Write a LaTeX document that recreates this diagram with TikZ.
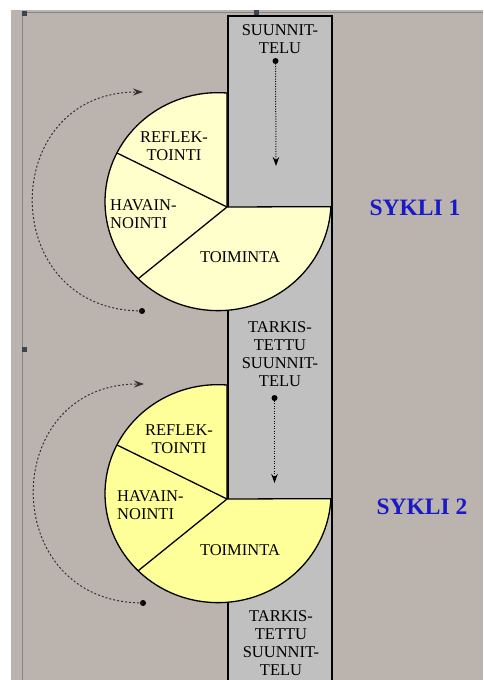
\documentclass[tikz,border=0pt]{standalone}
\usepackage{fontspec}
\setmainfont{Liberation Serif}
\usetikzlibrary{arrows.meta,calc}
\definecolor{bgc}{HTML}{BAB3AE}
\definecolor{colc}{HTML}{C0C0C0}
\definecolor{pieA}{HTML}{FFFFCC}
\definecolor{pieB}{HTML}{FFFF99}
\definecolor{syk}{RGB}{25,25,200}
\definecolor{frame}{HTML}{858585}
\definecolor{handle}{HTML}{3C4450}
\tikzset{
  lbl/.style={inner sep=0pt, align=center, font=\fontsize{16.5}{18}\selectfont, text=black},
  lblL/.style={inner sep=0pt, align=left, font=\fontsize{16.5}{18}\selectfont, text=black, anchor=west},
  sykli/.style={inner sep=0pt, font=\fontsize{23.5}{26}\selectfont\bfseries, text=syk},
  dotnode/.style={circle, fill=black, inner sep=0pt, minimum size=6pt},
  piebord/.style={draw=black, line width=1.3pt},
  vdots/.style={draw=black, line width=1pt, dash pattern=on 1pt off 1.5pt, -{Stealth[length=9pt,width=6.5pt]}},
  curvy/.style={draw=black!80, line width=1pt, dash pattern=on 2pt off 2pt, -{Stealth[length=10pt,width=7pt]}},
}
\begin{document}
\begin{tikzpicture}[x=1pt,y=1pt]
\useasboundingbox (0,0) rectangle (483,-680);
\fill[white] (0,0) rectangle (483,-680);
\fill[bgc] (11,-10) rectangle (483,-680);
% frame lines and handles
\draw[frame, line width=1.5pt] (22.5,-13) -- (22.5,-680);
\draw[frame, line width=1pt] (22.5,-12.5) -- (483,-12.5);
\fill[handle] (22,-11) rectangle (27,-16);
\fill[handle] (254,-10) rectangle (259,-15);
\fill[handle] (22,-347) rectangle (27,-352);
% column
\draw[fill=colc, draw=black, line width=1.3pt] (228,-16) rectangle (332,-690);
% upper pie
\begin{scope}
  \coordinate (hub1) at (227,-207);
  \coordinate (c1) at (218,-202);
  \filldraw[fill=pieA, piebord] (hub1) -- (227,-93) arc[start angle=85.43, end angle=357.37, x radius=113, y radius=109] -- cycle;
  \draw[piebord] (hub1) -- ($(c1)+(153.3:113 and 109)$);
  \draw[piebord] (hub1) -- ($(c1)+(224.9:113 and 109)$);
\end{scope}
% lower pie
\begin{scope}
  \coordinate (hub2) at (227,-499);
  \coordinate (c2) at (218,-494);
  \filldraw[fill=pieB, piebord] (hub2) -- (227,-385) arc[start angle=85.43, end angle=357.37, x radius=113, y radius=109] -- cycle;
  \draw[piebord] (hub2) -- ($(c2)+(153.3:113 and 109)$);
  \draw[piebord] (hub2) -- ($(c2)+(224.9:113 and 109)$);
\end{scope}
% pie labels
\node[lbl] (refl1) at (174,-146) {REFLEK-\\TOINTI};
\node[lblL] (hav1) at (110,-214) {HAVAIN-\\NOINTI};
\node[lbl] (toim1) at (240,-257) {TOIMINTA};
\node[lbl] (refl2) at (179,-439) {REFLEK-\\TOINTI};
\node[lblL] (hav2) at (117,-505) {HAVAIN-\\NOINTI};
\node[lbl] (toim2) at (240,-550) {TOIMINTA};
% column labels
\node[lbl] (suun) at (280,-39) {SUUNNIT-\\TELU};
\node[lbl] (tark1) at (280,-354) {TARKIS-\\TETTU\\SUUNNIT-\\TELU};
\node[lbl] (tark2) at (281,-643) {TARKIS-\\TETTU\\SUUNNIT-\\TELU};
% column arrows
\node[dotnode] (cd1) at (275.5,-61) {};
\coordinate (ca1) at (276,-166);
\draw[vdots] (cd1.center) -- (ca1);
\node[dotnode] (cd2) at (274.5,-398) {};
\coordinate (ca2) at (274.5,-483);
\draw[vdots] (cd2.center) -- (ca2);
% curved arrows
\node[dotnode] (ld1) at (142,-311) {};
\coordinate (lt1) at (143,-92);
\draw[curvy] (ld1.center) .. controls +(-146,0) and +(-146,0) .. (lt1);
\node[dotnode] (ld2) at (143,-603) {};
\coordinate (lt2) at (144,-384);
\draw[curvy] (ld2.center) .. controls +(-146,0) and +(-146,0) .. (lt2);
% cycle labels
\node[sykli] (s1) at (415,-208) {SYKLI 1};
\node[sykli] (s2) at (422,-507) {SYKLI 2};
\end{tikzpicture}
\end{document}
